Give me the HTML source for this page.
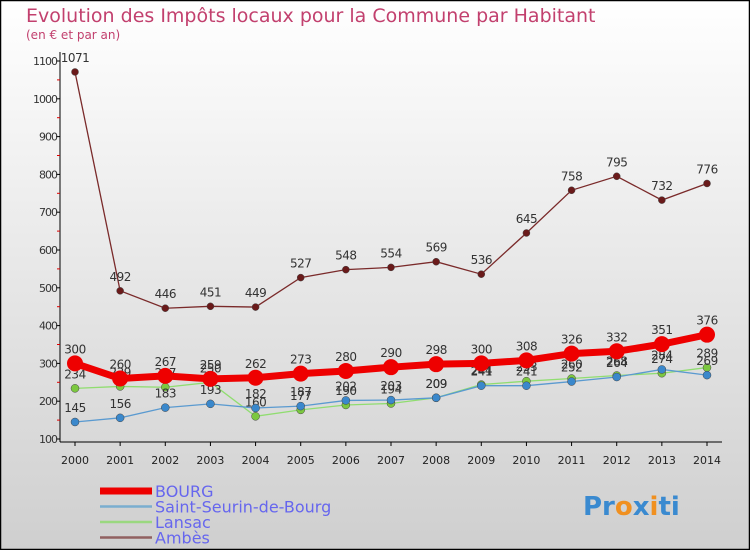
<!DOCTYPE html>
<html><head><meta charset="utf-8"><style>
body{margin:0;width:750px;height:550px;overflow:hidden;font-family:"DejaVu Sans","Liberation Sans",sans-serif}
svg{display:block}
</style></head><body>
<svg id="c" width="750" height="550" xmlns="http://www.w3.org/2000/svg">
<defs><linearGradient id="bg" x1="0" y1="0" x2="0" y2="1"><stop offset="0" stop-color="#ffffff"/><stop offset="1" stop-color="#cfcfcf"/></linearGradient></defs>
<rect x="0.5" y="0.5" width="749" height="549" fill="url(#bg)" stroke="#000" stroke-width="1.5"/>
<text x="26" y="22" font-size="19" fill="#c2406e">Evolution des Impôts locaux pour la Commune par Habitant</text>
<text x="26" y="39" font-size="12" fill="#c2406e">(en € et par an)</text>
<g id="axes"></g><g id="series"></g><g id="legend"></g>
<text x="583" y="515" font-size="26" font-weight="bold" fill="#3a8ad0">Pr<tspan fill="#f09020">o</tspan>x<tspan fill="#f09020">i</tspan>ti</text>
</svg>
<script>
const years=["2000","2001","2002","2003","2004","2005","2006","2007","2008","2009","2010","2011","2012","2013","2014"];
const yTicks=[100,200,300,400,500,600,700,800,900,1000,1100];
const bourg=[300,260,267,259,262,273,280,290,298,300,308,326,332,351,376];
const saintSeurin=[145,156,183,193,182,187,202,203,209,241,241,252,264,284,269];
const lansac=[234,239,237,250,160,177,190,194,209,244,253,260,268,274,289];
const ambes=[1071,492,446,451,449,527,548,554,569,536,645,758,795,732,776];
const NS="http://www.w3.org/2000/svg";
const X=i=>75+i*(707-75)/(years.length-1);
const Y=v=>439-(v-100)*0.378;
function mk(t,a,p){const e=document.createElementNS(NS,t);for(const k in a)e.setAttribute(k,a[k]);p.appendChild(e);return e;}
const ax=document.getElementById('axes');
let l=mk('line',{x1:60,y1:52,x2:60,y2:442,stroke:'#000','stroke-width':1},ax);

l=mk('line',{x1:60,y1:442,x2:722,y2:442,stroke:'#000','stroke-width':1},ax);

yTicks.forEach(v=>{
 mk('line',{x1:56,x2:60,y1:Y(v),y2:Y(v),stroke:'#000'},ax);
 const t=mk('text',{x:57,y:Y(v)+4,'font-size':11,'text-anchor':'end',fill:'#333','letter-spacing':'-1'},ax);t.textContent=v;
 
 if(v<1100) mk('line',{x1:57,x2:60,y1:Y(v+50),y2:Y(v+50),stroke:'#d00'},ax);
});
years.forEach((y,i)=>{
 mk('line',{x1:X(i),x2:X(i),y1:442,y2:446,stroke:'#000'},ax);
 const t=mk('text',{x:X(i),y:464,'font-size':11,'text-anchor':'middle',fill:'#222'},ax);t.textContent=y;
 
});
const sg=document.getElementById('series');
const series=[
 {n:'ambes',d:ambes,c:'#7a2a2a',f:'#6a1a1a',w:1.3,r:3.5},
 {n:'lansac',d:lansac,c:'#90dd70',f:'#7cc840',w:1.3,r:4},
 {n:'saint-seurin',d:saintSeurin,c:'#5a9ad0',f:'#3a88cc',w:1.3,r:4},
 {n:'bourg',d:bourg,c:'#ee0000',f:'#ee0000',w:7,r:8}];
series.forEach(s=>{
 const g=mk('g',{},sg);
 const p=mk('polyline',{points:s.d.map((v,i)=>X(i)+','+Y(v)).join(' '),fill:'none',stroke:s.c,'stroke-width':s.w},g);
 
 s.d.forEach((v,i)=>{
  const c=mk('circle',{cx:X(i),cy:Y(v),r:s.r,fill:s.f,stroke:s.w>2?'none':'#444','stroke-width':0.5},g);
  
  const t=mk('text',{x:X(i),y:Y(v)-10,'font-size':12,'text-anchor':'middle',fill:'#333','letter-spacing':'-0.5'},g);t.textContent=v;
  
 });
});
const lg=document.getElementById('legend');
[['BOURG','#ee0000',7],['Saint-Seurin-de-Bourg','#7aaed0',2.5],['Lansac','#9ad880',2.5],['Ambès','#906060',2.5]].forEach((e,i)=>{
 const y=491+i*15.5;
 const g=mk('g',{},lg);
 mk('line',{x1:100,x2:152,y1:y,y2:y,stroke:e[1],'stroke-width':e[2]},g);
 const t=mk('text',{x:155,y:y+6,'font-size':16,fill:'#6666ee'},g);t.textContent=e[0];
});
</script>
</body></html>
